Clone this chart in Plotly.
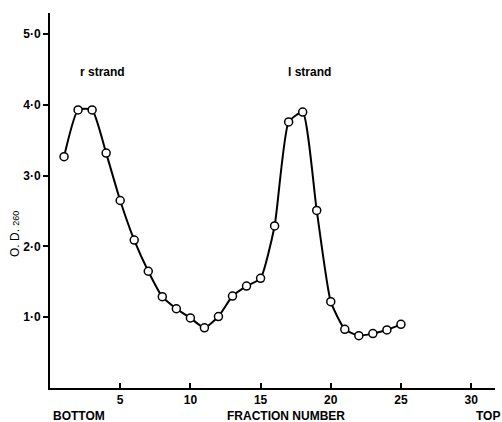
import plotly.graph_objects as go

fractions = list(range(1, 26))
od260 = [3.27, 3.93, 3.93, 3.32, 2.65, 2.09, 1.65, 1.29, 1.12, 0.99,
         0.85, 1.01, 1.30, 1.44, 1.55, 2.29, 3.76, 3.90, 2.51, 1.22,
         0.83, 0.74, 0.77, 0.82, 0.90]

x_tickvals = [5, 10, 15, 20, 25, 30]
x_ticktext = ["5", "10", "15", "20", "25", "30"]
y_tickvals = [1, 2, 3, 4, 5]
y_ticktext = ["1·0", "2·0", "3·0", "4·0", "5·0"]

FONT = "Liberation Sans, Arial, sans-serif"

L, R, T, B = 50, 7, 13, 34
W, H = 502, 422
PW, PH = W - L - R, H - T - B


def px_to_paper(px, py):
    return (px - L) / PW, (H - B - py) / PH


fig = go.Figure()
fig.add_trace(go.Scatter(
    x=fractions, y=od260, mode="lines+markers",
    line=dict(color="black", width=2, shape="spline", smoothing=0.5),
    marker=dict(symbol="circle", size=8, color="white",
                line=dict(color="black", width=1.5)),
    showlegend=False, cliponaxis=False,
))

tfont = dict(size=12, family=FONT, color="black", weight="bold")

axis_common = dict(showgrid=False, zeroline=False, showline=True,
                   linecolor="black", linewidth=2,
                   ticklen=5, tickwidth=1.5, tickcolor="black",
                   automargin=False, tickfont=tfont)

fig.update_layout(
    width=W, height=H,
    margin=dict(l=L, r=R, t=T, b=B),
    paper_bgcolor="white", plot_bgcolor="white",
    font=dict(family=FONT, color="black", size=12),
    xaxis=dict(range=[0, 31.7], tickvals=x_tickvals, ticktext=x_ticktext,
               ticks="inside", **axis_common),
    yaxis=dict(range=[0, 5.3], tickvals=y_tickvals, ticktext=y_ticktext,
               ticks="outside", **axis_common),
)

# strand labels in data coordinates
for xx, yy, txt in [(3.74, 4.46, "r strand"), (18.5, 4.46, "l strand")]:
    fig.add_annotation(x=xx, y=yy, xref="x", yref="y", text=txt,
                       showarrow=False, xanchor="center", yanchor="middle",
                       font=tfont)

# bottom labels in paper coordinates
for px, py, txt, anc in [(51, 416, "BOTTOM", "left"),
                         (286, 416, "FRACTION NUMBER", "center"),
                         (502, 416, "TOP", "right")]:
    xp, yp = px_to_paper(px, py)
    fig.add_annotation(x=xp, y=yp, xref="paper", yref="paper", text=txt,
                       showarrow=False, xanchor=anc, yanchor="middle",
                       font=tfont)

xp, yp = px_to_paper(15, 234)
fig.add_annotation(
    x=xp, y=yp, xref="paper", yref="paper",
    text="O. D. <span style='font-size:9px'>260</span>",
    textangle=-90, showarrow=False, xanchor="center", yanchor="middle",
    font=dict(size=12, family=FONT, color="black"))

fig.write_html("out.html", config={"displayModeBar": False},
               post_script="document.body.style.margin='0';"
                           "document.body.style.overflow='hidden';")
